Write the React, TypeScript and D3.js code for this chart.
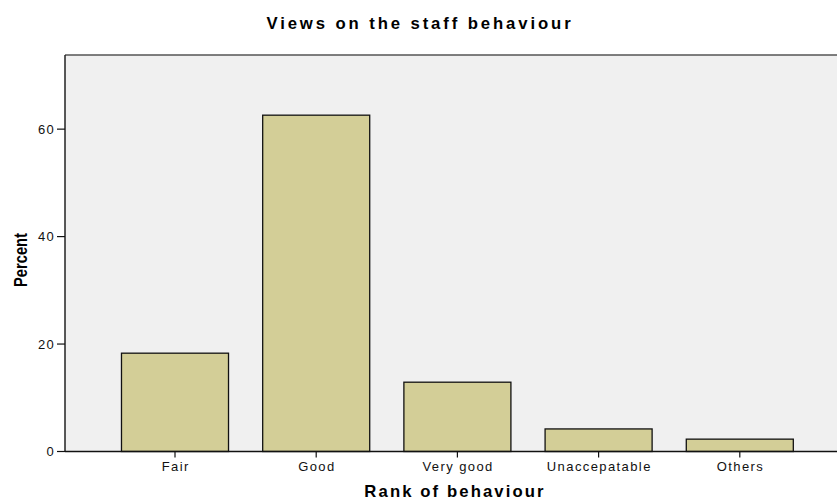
import React from "react";
import * as d3 from "d3";

const categories = ["Fair", "Good", "Very good", "Unaccepatable", "Others"];
const percents = [18.3, 62.6, 12.9, 4.2, 2.3];
const yTicks = [0, 20, 40, 60];

const W = 837;
const H = 498;
const left = 65;
const top = 55;
const bottom = 451.5;
const rightExt = 849;

export default function App() {
  const x = d3.scaleBand<string>().domain(categories).range([104.4, 104.4 + 141.2 * 5]).paddingInner(0.242).paddingOuter(0.121);
  const y = d3.scaleLinear().domain([0, 73.8]).range([bottom, top]);
  const font = "'Liberation Sans', Arial, sans-serif";
  return (
    <svg width={W} height={H} style={{ position: "absolute", left: 0, top: 0, background: "#fff" }} fontFamily={font}>
      <rect x={left} y={top} width={rightExt - left} height={bottom - top} fill="#F0F0F0" />
      <line x1={left} y1={top} x2={W} y2={top} stroke="#555" strokeWidth={1.5} />
      <line x1={left} y1={top} x2={left} y2={bottom} stroke="#222" strokeWidth={1.5} />
      {categories.map((c, i) => (
        <rect
          key={c}
          x={x(c)!}
          y={y(percents[i])}
          width={x.bandwidth()}
          height={bottom - y(percents[i])}
          fill="#D3CE97"
          stroke="#111"
          strokeWidth={1.3}
        />
      ))}
      <line x1={left} y1={bottom} x2={W} y2={bottom} stroke="#111" strokeWidth={1.5} />
      {yTicks.map((t) => (
        <g key={t}>
          <line x1={left - 8} x2={left} y1={y(t)} y2={y(t)} stroke="#111" strokeWidth={1.2} />
          <text x={left - 10} y={y(t)} dy="0.36em" textAnchor="end" fontSize={13} letterSpacing={1.3} fill="#111">
            {t}
          </text>
        </g>
      ))}
      {categories.map((c) => {
        const cx = x(c)! + x.bandwidth() / 2;
        return (
          <g key={c}>
            <line x1={cx} x2={cx} y1={bottom} y2={bottom + 6} stroke="#111" strokeWidth={1.2} />
            <text x={cx + 0.7} y={bottom + 19.5} textAnchor="middle" fontSize={13} letterSpacing={1.4} fill="#111">
              {c}
            </text>
          </g>
        );
      })}
      <text x={420} y={29} textAnchor="middle" fontSize={16.7} letterSpacing={2.9} fontWeight="bold" fill="#000">
        Views on the staff behaviour
      </text>
      <text x={455} y={497} textAnchor="middle" fontSize={16.7} letterSpacing={2.1} fontWeight="bold" fill="#000">
        Rank of behaviour
      </text>
      <text
        textAnchor="middle"
        fontSize={17.5}
        fontWeight="bold"
        fill="#000"
        style={{ transform: "translate(27px,260px) rotate(-90deg) scaleX(0.84)" }}
      >
        Percent
      </text>
    </svg>
  );
}
